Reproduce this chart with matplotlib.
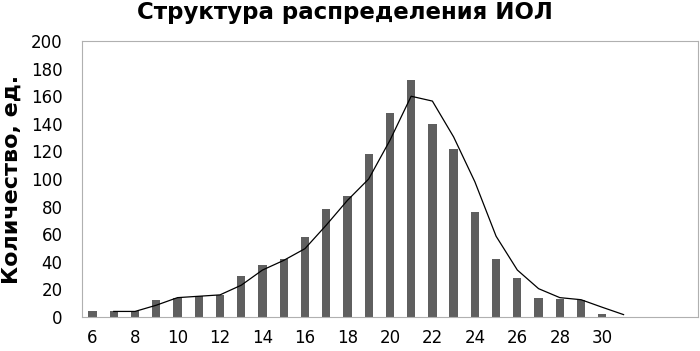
import matplotlib
matplotlib.use("Agg")
import matplotlib.pyplot as plt

# размер ИОЛ (диоптрии) и количество
sizes = list(range(6, 35))
counts = [4, 4, 4, 12, 14, 15, 16, 30, 38, 42, 58, 78, 88, 118, 148,
          172, 140, 122, 76, 42, 28, 14, 13, 12, 2, 0, 0, 0, 0]

# сглаженная линия (от 7 до 31)
line_sizes = list(range(7, 32))
line_vals = [4, 4, 8.5, 14, 15, 16, 23, 34, 41, 49.5, 66.5, 84.5, 100, 128,
             160, 156.5, 130.5, 98, 58.5, 34, 20.5, 14, 12.5, 7, 1.7]

tick_labels = [str(s) for s in range(6, 31, 2)]

fig = plt.figure(figsize=(7, 3.51), dpi=100)
ax = fig.add_axes([0.117, 0.097, 0.88, 0.786])

pos = [sizes.index(s) for s in sizes]
ax.bar(pos, counts, width=0.39, color="#5f5f5f", zorder=2)
lpos = [sizes.index(s) for s in line_sizes]
ax.plot(lpos, line_vals, color="black", lw=0.9, zorder=3)

ax.set_xlim(-0.5, len(sizes) - 0.5)
ax.set_ylim(0, 200)
ax.set_yticks(range(0, 201, 20))
ax.set_xticks([sizes.index(int(t)) for t in tick_labels])
ax.set_xticklabels(tick_labels)
ax.tick_params(axis="both", length=0, labelsize=12)
ax.tick_params(axis="y", pad=14)
ax.tick_params(axis="x", pad=9)
for sp in ax.spines.values():
    sp.set_color("#b0b0b0")
    sp.set_linewidth(0.8)

ax.set_ylabel("Количество, ед.", fontsize=16, fontweight="bold")
ax.yaxis.set_label_coords(-0.097, 0.5)
fig.text(0.493, 0.965, "Структура распределения ИОЛ", fontsize=16.5,
         fontweight="bold", ha="center", va="center")

fig.savefig("out.png", dpi=100)
